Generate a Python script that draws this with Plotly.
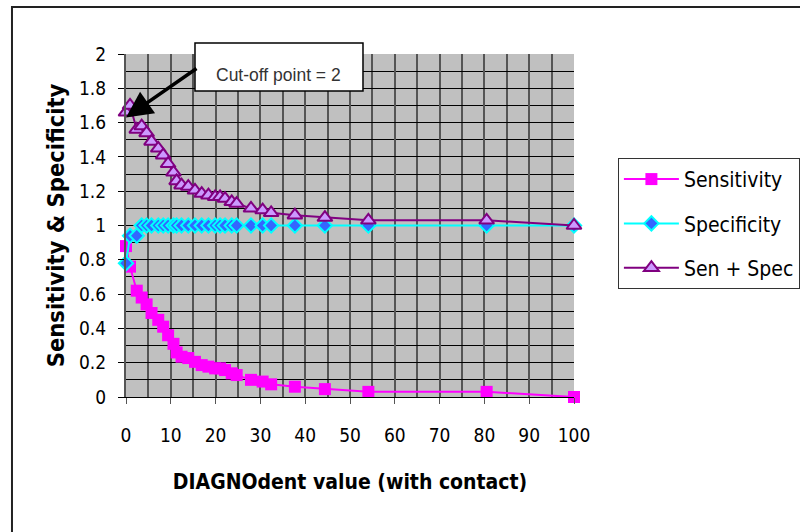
import plotly.graph_objects as go

# DIAGNOdent value (with contact)
x_vals = [0, 0.9, 2.4, 3.5, 4.6, 5.7, 7.2, 8.3, 9.4, 10.6, 11.3, 12.4, 13.9, 15.4,
          16.9, 18.4, 19.9, 21.0, 22.1, 23.6, 24.7, 27.9, 30.5, 32.4, 37.7, 44.4,
          54.1, 80.5, 100]
sensitivity = [0.88, 0.76, 0.62, 0.58, 0.54, 0.49, 0.45, 0.41, 0.36, 0.31, 0.26, 0.235,
               0.227, 0.205, 0.186, 0.177, 0.167, 0.167, 0.157, 0.138, 0.128, 0.10,
               0.09, 0.074, 0.06, 0.046, 0.03, 0.03, 0.0]
specificity = [0.78, 0.94, 0.94, 1.0, 1.0, 1.0, 1.0, 1.0, 1.0, 1.0, 1.0, 1.0, 1.0, 1.0,
               1.0, 1.0, 1.0, 1.0, 1.0, 1.0, 1.0, 1.0, 1.0, 1.0, 1.0, 1.0, 1.0, 1.0, 1.0]
sen_spec = [1.66, 1.70, 1.56, 1.58, 1.54, 1.49, 1.45, 1.41, 1.36, 1.31, 1.26, 1.235,
            1.227, 1.205, 1.186, 1.177, 1.167, 1.167, 1.157, 1.138, 1.128, 1.10,
            1.09, 1.074, 1.06, 1.046, 1.03, 1.03, 1.0]
x_ticks = [0, 10, 20, 30, 40, 50, 60, 70, 80, 90, 100]
y_ticks = [0, 0.2, 0.4, 0.6, 0.8, 1, 1.2, 1.4, 1.6, 1.8, 2]
y_tick_labels = ["0", "0.2", "0.4", "0.6", "0.8", "1", "1.2", "1.4", "1.6", "1.8", "2"]

FONT = "DejaVu Sans Condensed, DejaVu Sans, sans-serif"

fig = go.Figure()
fig.add_trace(go.Scatter(
    x=x_vals, y=sensitivity, name="Sensitivity", mode="lines+markers",
    line=dict(color="#ff00ff", width=2), legendgroup="a",
    marker=dict(symbol="square", size=12, color="#ff00ff"), cliponaxis=False))
fig.add_trace(go.Scatter(
    x=x_vals, y=specificity, name="Specificity", mode="lines+markers",
    line=dict(color="#00ffff", width=2), legendgroup="b",
    marker=dict(symbol="diamond", size=11, color="#3366ff",
                line=dict(color="#00ffff", width=2)), cliponaxis=False))
fig.add_trace(go.Scatter(
    x=x_vals, y=sen_spec, name="Sen + Spec", mode="lines+markers",
    line=dict(color="#800080", width=2), legendgroup="c",
    marker=dict(symbol="triangle-up", size=13, color="#cc99ff",
                line=dict(color="#800080", width=2)), cliponaxis=False))

fig.update_layout(
    width=800, height=532,
    margin=dict(l=126, r=226, t=54, b=135, autoexpand=False),
    paper_bgcolor="white", plot_bgcolor="#c0c0c0",
    font=dict(family=FONT, size=19, color="black"),
    showlegend=True,
    legend=dict(x=1.098, xanchor="left", y=0.697, yanchor="top",
                bordercolor="#333", borderwidth=1, bgcolor="white",
                font=dict(size=21), tracegroupgap=14, itemwidth=55),
    xaxis=dict(range=[0, 100], tickvals=x_ticks, ticks="outside", ticklen=6,
               tickcolor="#555", showgrid=True, gridcolor="#555", gridwidth=2,
               minor=dict(dtick=5, showgrid=True, gridcolor="#555", gridwidth=2),
               showline=True, linecolor="black", linewidth=1, zeroline=False,
               ticklabelstandoff=15,
               title=dict(text="<b>DIAGNOdent value (with contact)</b>",
                          font=dict(size=21), standoff=29)),
    yaxis=dict(range=[0, 2], tickvals=y_ticks, ticktext=y_tick_labels, ticks="outside",
               ticklen=6, tickcolor="black", showgrid=True, gridcolor="black",
               gridwidth=1,
               minor=dict(dtick=0.1, showgrid=True, gridcolor="black", gridwidth=1),
               showline=True, linecolor="#555", linewidth=2, zeroline=False,
               ticklabelstandoff=8,
               title=dict(text="<b>Sensitivity & Specificity</b>",
                          font=dict(size=23.5), standoff=8)),
)

# cut-off box and arrow
fig.add_shape(type="rect", xref="paper", yref="paper",
              x0=0.154, x1=0.529, y0=0.892, y1=1.032,
              fillcolor="white", line=dict(color="black", width=1.5), layer="above")
fig.add_annotation(xref="paper", yref="paper", x=0.3415, y=0.975,
                   text="Cut-off point = 2", showarrow=False,
                   font=dict(family="Liberation Sans, Arial, sans-serif", size=17.5, color="#333"))
fig.add_annotation(x=0, y=1.63, ax=72, ay=-50, text="", showarrow=True,
                   arrowhead=2, arrowsize=1.5, arrowwidth=3.5, arrowcolor="black")

# outer chart frame
fig.add_shape(type="rect", xref="paper", yref="paper",
              x0=-0.2545, x1=1.7, y0=-0.6, y1=1.137,
              fillcolor="rgba(0,0,0,0)", line=dict(color="#222", width=2), layer="below")

fig.write_html("out.html")
